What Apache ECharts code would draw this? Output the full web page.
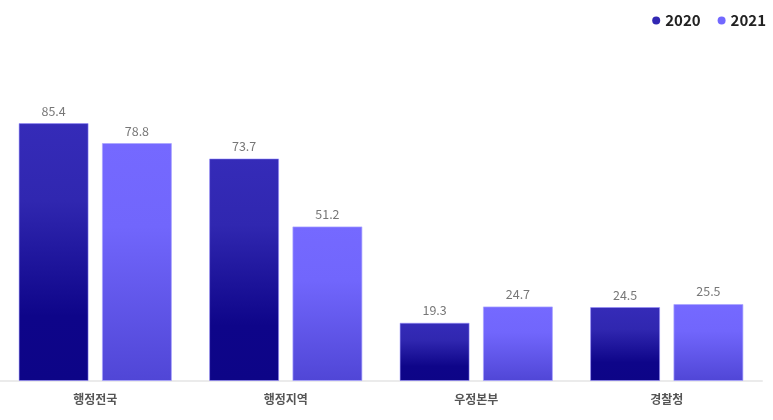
<!DOCTYPE html>
<html>
<head>
<meta charset="utf-8">
<script src="https://cdn.jsdelivr.net/npm/echarts@6/dist/echarts.min.js"></script>
<style>
html,body{margin:0;padding:0;background:#fff;}
#c{width:773px;height:420px;}
</style>
</head>
<body>
<div id="c"></div>
<script>
const categories = ['행정전국', '행정지역', '우정본부', '경찰청'];
const series2020 = [85.4, 73.7, 19.3, 24.5];
const series2021 = [78.8, 51.2, 24.7, 25.5];
const seriesNames = ['2020', '2021'];
const legendColors = ['#3127b3', '#7268ff'];

const chart = echarts.init(document.getElementById('c'));
const font = '"Noto Sans CJK KR", "Noto Sans", sans-serif';
function grad(stops) {
  return new echarts.graphic.LinearGradient(0, 0, 0, 1, stops.map(s => ({offset: s[0], color: s[1]})));
}
chart.setOption({
  animation: false,
  textStyle: {fontFamily: font},
  legend: {
    top: 8, right: 2,
    itemWidth: 8, itemHeight: 8, itemGap: 17,
    icon: 'circle',
    textStyle: {fontSize: 15, fontWeight: 'bold', color: '#222', fontFamily: font},
    data: seriesNames.map((n, i) => ({name: n, itemStyle: {color: legendColors[i], borderWidth: 0}}))
  },
  grid: {left: -1, right: 11, top: 79, bottom: 39, containLabel: false},
  xAxis: {
    type: 'category',
    data: categories,
    axisLine: {lineStyle: {color: '#ebebeb', width: 2}},
    axisTick: {show: false},
    axisLabel: {margin: 12, fontSize: 12, fontWeight: 'bold', color: '#555', fontFamily: font}
  },
  yAxis: {type: 'value', min: 0, max: 100, show: false, splitLine: {show: false}},
  series: [
    {
      name: seriesNames[0], type: 'bar', data: series2020,
      barWidth: 70, barGap: '19%',
      itemStyle: {
        color: grad([[0, '#352bb8'], [0.3, '#3027b0'], [0.75, '#0e0589'], [1, '#0d0587']]),
        borderColor: 'rgba(150,140,255,0.55)', borderWidth: 1
      },
      label: {show: true, position: 'top', distance: 6, fontSize: 12.5, color: '#777', fontFamily: font}
    },
    {
      name: seriesNames[1], type: 'bar', data: series2021,
      barWidth: 70,
      itemStyle: {
        color: grad([[0, '#7569ff'], [0.35, '#7166fc'], [1, '#5046d6']]),
        borderColor: 'rgba(170,165,255,0.7)', borderWidth: 1
      },
      label: {show: true, position: 'top', distance: 6, fontSize: 12.5, color: '#777', fontFamily: font}
    }
  ]
});
</script>
</body>
</html>
